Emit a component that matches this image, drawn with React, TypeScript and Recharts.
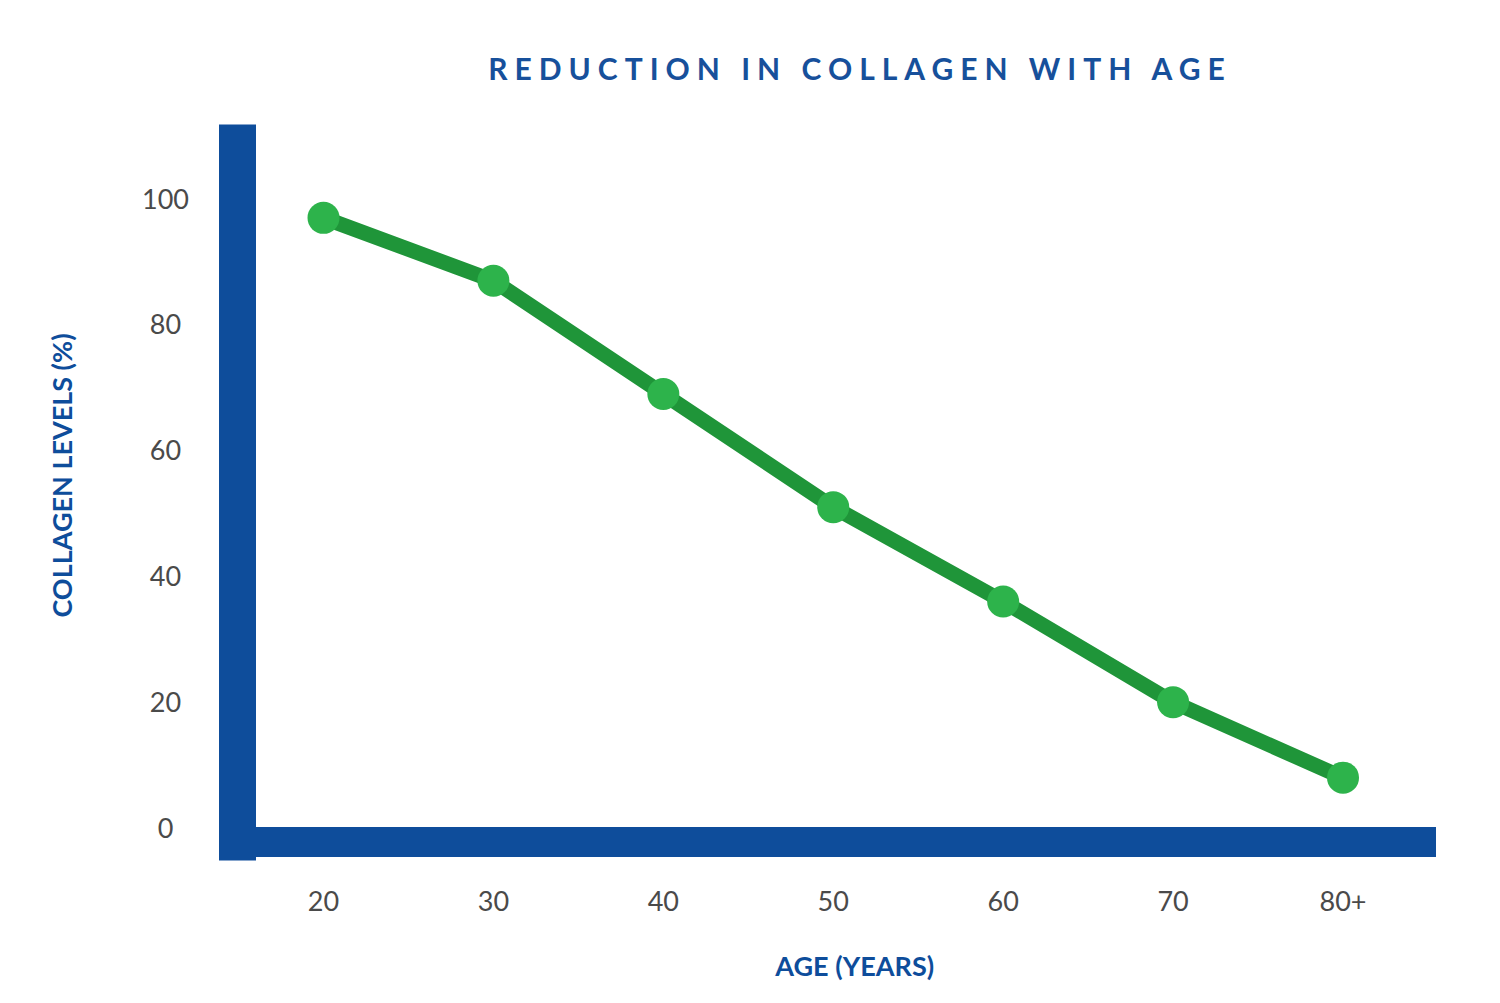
import React from "react";
import { Label, Line, LineChart, XAxis, YAxis } from "recharts";

const ages = ["20", "30", "40", "50", "60", "70", "80+"];
const collagen = [97, 87, 69, 51, 36, 20, 8];
const yTicks = [0, 20, 40, 60, 80, 100];

const data = ages.map((age, i) => ({ age, collagen: collagen[i] }));

const BLUE = "#0e4d9b";
const FONT = "Lato, 'Noto Sans', sans-serif";

export default function App() {
  return (
    <div style={{ position: "absolute", left: 0, top: 0, width: 1500, height: 1003, background: "#fff", fontFamily: FONT }}>
      <div
        style={{
          position: "absolute",
          left: 360,
          top: 48,
          width: 1000,
          lineHeight: "40px",
          textAlign: "center",
          fontSize: 30,
          fontWeight: 700,
          letterSpacing: 7,
          color: "#17509b",
        }}
      >
        REDUCTION IN COLLAGEN WITH AGE
      </div>
      <LineChart width={1500} height={1003} data={data} margin={{ top: 143, right: 64, bottom: 0, left: 0 }}>
        <XAxis
          dataKey="age"
          height={161}
          padding={{ left: 86, right: 93 }}
          axisLine={{ stroke: BLUE, strokeWidth: 30 }}
          tickLine={false}
          tickSize={0}
          tickMargin={50}
          tick={{ fill: "#4a4a4a", fontSize: 27, fontFamily: FONT }}
        >
          <Label
            value="AGE (YEARS)"
            position="insideBottom"
            offset={27}
            dx={18}
            style={{ fill: BLUE, fontSize: 27, fontWeight: 700, fontFamily: FONT }}
          />
        </XAxis>
        <YAxis
          width={237.5}
          domain={[-2.23, 108.9]}
          ticks={yTicks}
          interval={0}
          axisLine={{ stroke: BLUE, strokeWidth: 37, strokeLinecap: "square" }}
          tickLine={false}
          tickSize={0}
          tickMargin={72}
          tick={{ fill: "#4a4a4a", fontSize: 27, fontFamily: FONT, textAnchor: "middle" }}
        >
          <Label
            value="COLLAGEN LEVELS (%)"
            position="insideLeft"
            angle={-90}
            offset={62}
            dy={-17}
            style={{ fill: BLUE, fontSize: 27, fontWeight: 700, fontFamily: FONT, textAnchor: "middle" }}
          />
        </YAxis>
        <Line
          type="linear"
          dataKey="collagen"
          stroke="#1f9539"
          strokeWidth={15}
          strokeLinejoin="round"
          dot={{ r: 16, fill: "#2db34b", stroke: "none", strokeWidth: 0 }}
          activeDot={false}
          isAnimationActive={false}
        />
      </LineChart>
    </div>
  );
}
